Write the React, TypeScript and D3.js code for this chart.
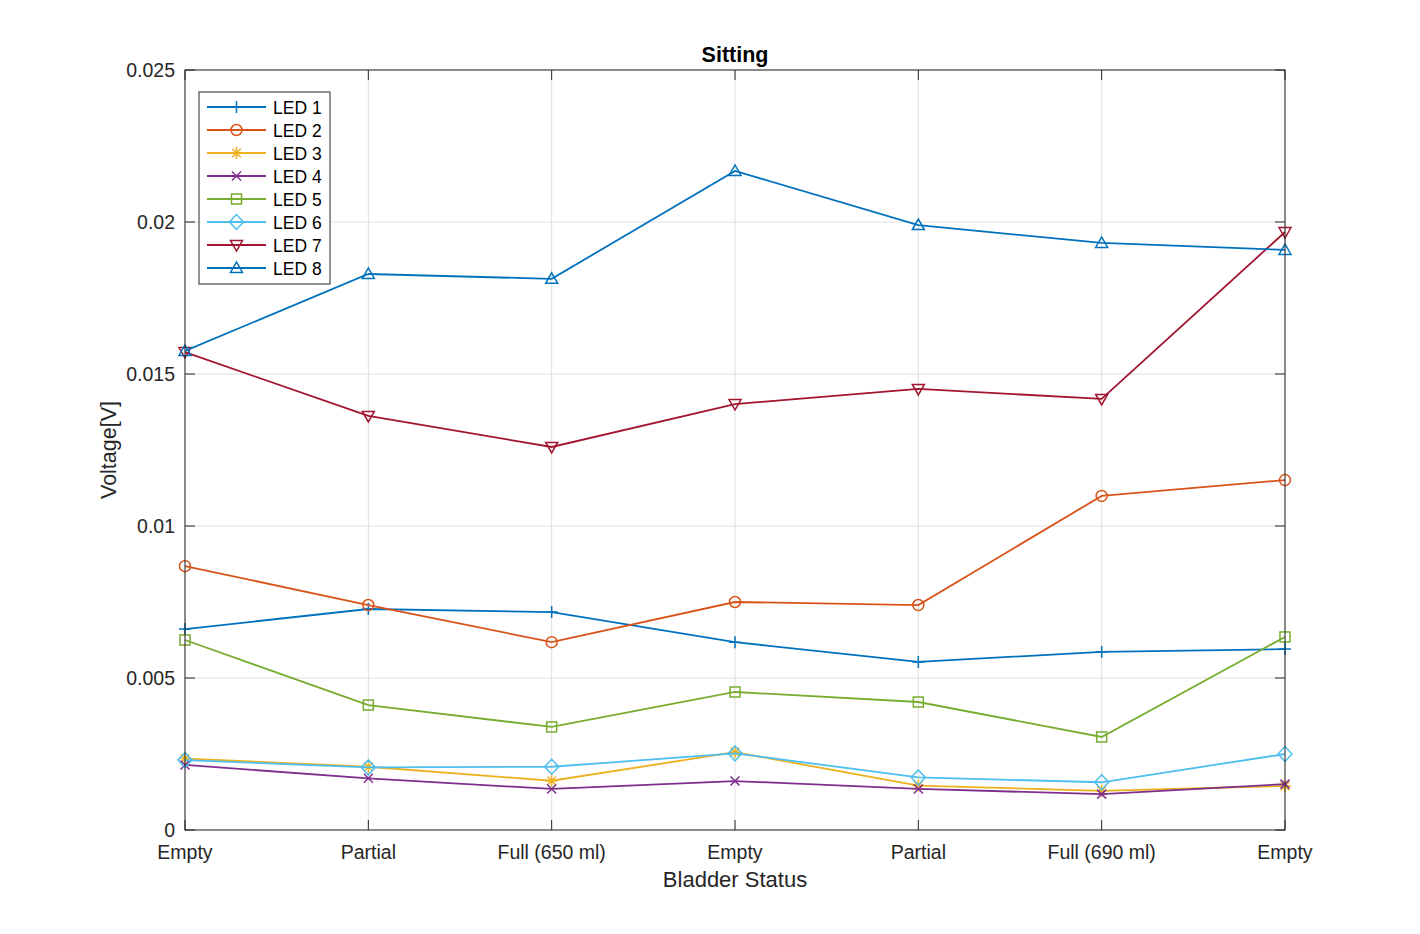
import React from "react";
import * as d3 from "d3";

const categories = ["Empty", "Partial", "Full (650 ml)", "Empty", "Partial", "Full (690 ml)", "Empty"];
const yTicks = [0, 0.005, 0.01, 0.015, 0.02, 0.025];

const led1 = [0.00661, 0.00727, 0.00717, 0.00618, 0.00553, 0.00586, 0.00595];
const led2 = [0.00868, 0.0074, 0.00618, 0.0075, 0.0074, 0.01099, 0.01151];
const led3 = [0.00235, 0.00208, 0.00162, 0.00256, 0.00146, 0.00129, 0.00145];
const led4 = [0.00214, 0.0017, 0.00135, 0.00161, 0.00135, 0.00118, 0.00151];
const led5 = [0.00625, 0.00411, 0.00339, 0.00454, 0.00421, 0.00306, 0.00635];
const led6 = [0.0023, 0.00206, 0.00208, 0.00252, 0.00173, 0.00157, 0.0025];
const led7 = [0.01572, 0.01362, 0.0126, 0.01401, 0.01451, 0.01418, 0.01967];
const led8 = [0.01576, 0.01829, 0.01813, 0.02168, 0.0199, 0.01931, 0.01908];

const seriesNames = ["LED 1", "LED 2", "LED 3", "LED 4", "LED 5", "LED 6", "LED 7", "LED 8"];
const seriesColors = ["#0072BD", "#D95319", "#EDB120", "#7E2F8E", "#77AC30", "#4DBEEE", "#A2142F", "#0072BD"];
const seriesMarkers = ["plus", "circle", "star", "x", "square", "diamond", "tdown", "tup"];
const seriesValues = [led1, led2, led3, led4, led5, led6, led7, led8];

const W = 1420, H = 934;
const L = 185, R = 1285, T = 70, B = 830;
const FONT = "'Liberation Sans', Arial, Helvetica, sans-serif";

function Marker({ type, x, y, color }: { type: string; x: number; y: number; color: string }) {
  const s = 6;
  const p = { stroke: color, strokeWidth: 1.5, fill: "none" };
  switch (type) {
    case "plus":
      return <path d={`M${x - s},${y}H${x + s}M${x},${y - s}V${y + s}`} {...p} />;
    case "circle":
      return <circle cx={x} cy={y} r={5.5} {...p} />;
    case "star":
      return (
        <path
          d={`M${x - s},${y}H${x + s}M${x},${y - s}V${y + s}M${x - 4.3},${y - 4.3}L${x + 4.3},${y + 4.3}M${x - 4.3},${y + 4.3}L${x + 4.3},${y - 4.3}`}
          {...p}
        />
      );
    case "x":
      return <path d={`M${x - 4.5},${y - 4.5}L${x + 4.5},${y + 4.5}M${x - 4.5},${y + 4.5}L${x + 4.5},${y - 4.5}`} {...p} />;
    case "square":
      return <rect x={x - 5} y={y - 5} width={10} height={10} {...p} />;
    case "diamond":
      return <path d={`M${x},${y - 7.5}L${x + 7},${y}L${x},${y + 7.5}L${x - 7},${y}Z`} {...p} />;
    case "tdown":
      return <path d={`M${x - 6},${y - 4.5}L${x + 6},${y - 4.5}L${x},${y + 6}Z`} {...p} />;
    case "tup":
      return <path d={`M${x - 6},${y + 4.5}L${x + 6},${y + 4.5}L${x},${y - 6}Z`} {...p} />;
  }
  return null;
}

export default function App() {
  const x = d3.scaleLinear().domain([0, categories.length - 1]).range([L, R]);
  const y = d3.scaleLinear().domain([0, 0.025]).range([B, T]);
  const line = d3
    .line<number>()
    .x((_, i) => x(i))
    .y((d) => y(d));
  const tickLen = 10;
  const legX = 199, legY = 92, legW = 131, legH = 192;

  return (
    <svg width={W} height={H} style={{ position: "absolute", left: 0, top: 0, background: "#fff" }} fontFamily={FONT}>
      <rect x={0} y={0} width={W} height={H} fill="#fff" />
      {/* grid */}
      {categories.map((_, i) => (
        <line key={"gx" + i} x1={x(i)} x2={x(i)} y1={T} y2={B} stroke="#dfdfdf" strokeWidth={1} />
      ))}
      {yTicks.map((t) => (
        <line key={"gy" + t} x1={L} x2={R} y1={y(t)} y2={y(t)} stroke="#dfdfdf" strokeWidth={1} />
      ))}
      {/* ticks */}
      {categories.map((_, i) => (
        <g key={"tx" + i}>
          <line x1={x(i)} x2={x(i)} y1={B} y2={B - tickLen} stroke="#262626" />
          <line x1={x(i)} x2={x(i)} y1={T} y2={T + tickLen} stroke="#262626" />
        </g>
      ))}
      {yTicks.map((t) => (
        <g key={"ty" + t}>
          <line x1={L} x2={L + tickLen} y1={y(t)} y2={y(t)} stroke="#262626" />
          <line x1={R} x2={R - tickLen} y1={y(t)} y2={y(t)} stroke="#262626" />
        </g>
      ))}
      {/* series */}
      {seriesValues.map((vals, si) => (
        <g key={"s" + si}>
          <path d={line(vals) || ""} fill="none" stroke={seriesColors[si]} strokeWidth={1.8} />
          {vals.map((v, i) => (
            <Marker key={i} type={seriesMarkers[si]} x={x(i)} y={y(v)} color={seriesColors[si]} />
          ))}
        </g>
      ))}
      {/* box */}
      <rect x={L} y={T} width={R - L} height={B - T} fill="none" stroke="#262626" strokeWidth={1} />
      {/* tick labels */}
      {categories.map((c, i) => (
        <text key={"lx" + i} x={x(i)} y={B + 29} textAnchor="middle" fontSize={19.5} fill="#262626">
          {c}
        </text>
      ))}
      {yTicks.map((t) => (
        <text key={"ly" + t} x={L - 10} y={y(t) + 7} textAnchor="end" fontSize={19.5} fill="#262626">
          {t === 0 ? "0" : d3.format("")(+t.toFixed(3))}
        </text>
      ))}
      {/* labels */}
      <text x={(L + R) / 2} y={62} textAnchor="middle" fontSize={21.5} fontWeight="bold" fill="#000">
        Sitting
      </text>
      <text x={(L + R) / 2} y={887} textAnchor="middle" fontSize={22} fill="#262626">
        Bladder Status
      </text>
      <text transform={`translate(116,${(T + B) / 2}) rotate(-90)`} textAnchor="middle" fontSize={21.5} fill="#262626">
        Voltage[V]
      </text>
      {/* legend */}
      <rect x={legX} y={legY} width={legW} height={legH} fill="#fff" stroke="#262626" strokeWidth={1} />
      {seriesNames.map((n, i) => {
        const ly = 107 + i * 23;
        return (
          <g key={"lg" + i}>
            <line x1={207} x2={266} y1={ly} y2={ly} stroke={seriesColors[i]} strokeWidth={1.8} />
            <Marker type={seriesMarkers[i]} x={236.5} y={ly} color={seriesColors[i]} />
            <text x={273} y={ly + 6.5} fontSize={17.5} fill="#000">
              {n}
            </text>
          </g>
        );
      })}
    </svg>
  );
}
